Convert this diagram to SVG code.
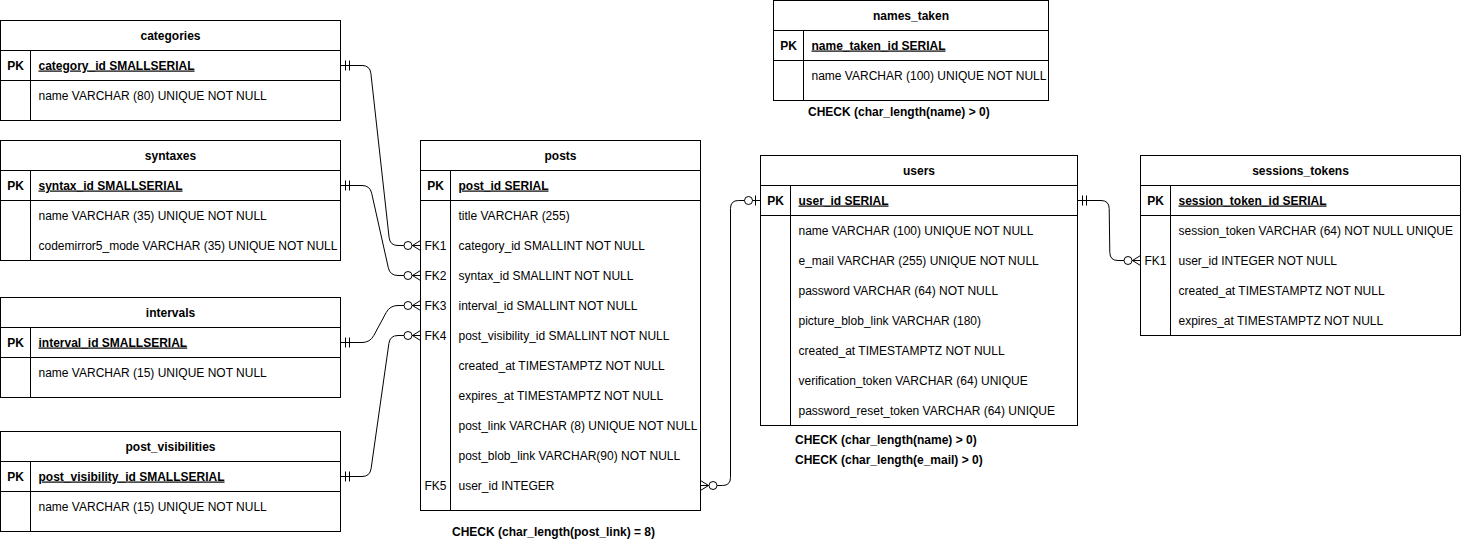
<svg xmlns="http://www.w3.org/2000/svg" width="1461" height="541" viewBox="0 0 1461 541">
<style>
text{font-family:"Liberation Sans",Arial,Helvetica,sans-serif;font-size:12px;fill:#000}
.h{text-anchor:middle;font-weight:bold}
.k{text-anchor:middle}
.kb{text-anchor:middle;font-weight:bold}
.pk{font-weight:bold;text-decoration:underline}
.ck{font-weight:bold}
.box{fill:#fff;stroke:#000;stroke-width:1}
.ln{stroke:#000;stroke-width:1;fill:none}
.edge{stroke:#000;stroke-width:1;fill:none}
</style>
<defs>
<marker id="mandOne" markerUnits="userSpaceOnUse" viewBox="-20 -8 22 16" refX="0" refY="0" markerWidth="22" markerHeight="16" orient="auto-start-reverse" overflow="visible">
<path d="M-5,-5V5M-9,-5V5" stroke="#000" stroke-width="1" fill="none"/>
</marker>
<marker id="zeroMany" markerUnits="userSpaceOnUse" viewBox="-20 -8 22 16" refX="0" refY="0" markerWidth="22" markerHeight="16" orient="auto-start-reverse" overflow="visible">
<path d="M0,-5L-8,0L0,5M-8,0H0" stroke="#000" stroke-width="1" fill="none"/>
<circle cx="-12.5" cy="0" r="4" fill="#fff" stroke="#000" stroke-width="1"/>
</marker>
<marker id="zeroOne" markerUnits="userSpaceOnUse" viewBox="-20 -8 22 16" refX="0" refY="0" markerWidth="22" markerHeight="16" orient="auto-start-reverse" overflow="visible">
<path d="M-5,-5V5" stroke="#000" stroke-width="1" fill="none"/>
<circle cx="-12" cy="0" r="4" fill="#fff" stroke="#000" stroke-width="1"/>
</marker>
</defs>
<rect x="0" y="0" width="1461" height="541" fill="#fff"/>

<g id="connectors">
<path class="edge" d="M340.5,65.5H362Q370,65.5 370.9,73.5L389.1,237.5Q390,245.5 398,245.5H420.5" marker-start="url(#mandOne)" marker-end="url(#zeroMany)"/>
<path class="edge" d="M340.5,185.5H362Q370,185.5 371.7,193.3L388.3,267.7Q390,275.5 398,275.5H420.5" marker-start="url(#mandOne)" marker-end="url(#zeroMany)"/>
<path class="edge" d="M340.5,342.5H362Q370,342.5 373.8,335.5L386.2,312.5Q390,305.5 398,305.5H420.5" marker-start="url(#mandOne)" marker-end="url(#zeroMany)"/>
<path class="edge" d="M340.5,476.5H362Q370,476.5 371.1,468.6L388.9,343.4Q390,335.5 398,335.5H420.5" marker-start="url(#mandOne)" marker-end="url(#zeroMany)"/>
<path class="edge" d="M700.5,485.5H722.5Q730.5,485.5 730.5,477.5V208.5Q730.5,200.5 738.5,200.5H760.5" marker-start="url(#zeroMany)" marker-end="url(#zeroOne)"/>
<path class="edge" d="M1077.5,200.5H1101Q1109,200.5 1109.2,208.5L1109.8,252.5Q1110,260.5 1118,260.5H1140.5" marker-start="url(#mandOne)" marker-end="url(#zeroMany)"/>
</g>

<g id="categories">
<rect class="box" x="0.5" y="20.5" width="340" height="100"/>
<path class="ln" d="M0.5,50.5H340.5M0.5,80.5H340.5M30.5,50.5V120.5"/>
<text class="h" x="170.5" y="39.5">categories</text>
<text class="kb" x="15.5" y="69.5">PK</text>
<text class="pk" x="38.5" y="69.5">category_id SMALLSERIAL</text>
<text x="38.5" y="99.5">name VARCHAR (80) UNIQUE NOT NULL</text>
</g>

<g id="syntaxes">
<rect class="box" x="0.5" y="140.5" width="340" height="120"/>
<path class="ln" d="M0.5,170.5H340.5M0.5,200.5H340.5M30.5,170.5V260.5"/>
<text class="h" x="170.5" y="159.5">syntaxes</text>
<text class="kb" x="15.5" y="189.5">PK</text>
<text class="pk" x="38.5" y="189.5">syntax_id SMALLSERIAL</text>
<text x="38.5" y="219.5">name VARCHAR (35) UNIQUE NOT NULL</text>
<text x="38.5" y="249.5">codemirror5_mode VARCHAR (35) UNIQUE NOT NULL</text>
</g>

<g id="intervals">
<rect class="box" x="0.5" y="297.5" width="340" height="100"/>
<path class="ln" d="M0.5,327.5H340.5M0.5,357.5H340.5M30.5,327.5V397.5"/>
<text class="h" x="170.5" y="316.5">intervals</text>
<text class="kb" x="15.5" y="346.5">PK</text>
<text class="pk" x="38.5" y="346.5">interval_id SMALLSERIAL</text>
<text x="38.5" y="376.5">name VARCHAR (15) UNIQUE NOT NULL</text>
</g>

<g id="post_visibilities">
<rect class="box" x="0.5" y="431.5" width="340" height="100"/>
<path class="ln" d="M0.5,461.5H340.5M0.5,491.5H340.5M30.5,461.5V531.5"/>
<text class="h" x="170.5" y="450.5">post_visibilities</text>
<text class="kb" x="15.5" y="480.5">PK</text>
<text class="pk" x="38.5" y="480.5">post_visibility_id SMALLSERIAL</text>
<text x="38.5" y="510.5">name VARCHAR (15) UNIQUE NOT NULL</text>
</g>

<g id="posts">
<rect class="box" x="420.5" y="140.5" width="280" height="370"/>
<path class="ln" d="M420.5,170.5H700.5M420.5,200.5H700.5M450.5,170.5V510.5"/>
<text class="h" x="560.5" y="159.5">posts</text>
<text class="kb" x="435.5" y="189.5">PK</text>
<text class="pk" x="458.5" y="189.5">post_id SERIAL</text>
<text x="458.5" y="219.5">title VARCHAR (255)</text>
<text class="k" x="435.5" y="249.5">FK1</text>
<text x="458.5" y="249.5">category_id SMALLINT NOT NULL</text>
<text class="k" x="435.5" y="279.5">FK2</text>
<text x="458.5" y="279.5">syntax_id SMALLINT NOT NULL</text>
<text class="k" x="435.5" y="309.5">FK3</text>
<text x="458.5" y="309.5">interval_id SMALLINT NOT NULL</text>
<text class="k" x="435.5" y="339.5">FK4</text>
<text x="458.5" y="339.5">post_visibility_id SMALLINT NOT NULL</text>
<text x="458.5" y="369.5">created_at TIMESTAMPTZ NOT NULL</text>
<text x="458.5" y="399.5">expires_at TIMESTAMPTZ NOT NULL</text>
<text x="458.5" y="429.5">post_link VARCHAR (8) UNIQUE NOT NULL</text>
<text x="458.5" y="459.5">post_blob_link VARCHAR(90) NOT NULL</text>
<text class="k" x="435.5" y="489.5">FK5</text>
<text x="458.5" y="489.5">user_id INTEGER</text>
<text class="ck" x="452" y="536">CHECK (char_length(post_link) = 8)</text>
</g>

<g id="users">
<rect class="box" x="760.5" y="155.5" width="317" height="270"/>
<path class="ln" d="M760.5,185.5H1077.5M760.5,215.5H1077.5M790.5,185.5V425.5"/>
<text class="h" x="919" y="174.5">users</text>
<text class="kb" x="775.5" y="204.5">PK</text>
<text class="pk" x="798.5" y="204.5">user_id SERIAL</text>
<text x="798.5" y="234.5">name VARCHAR (100) UNIQUE NOT NULL</text>
<text x="798.5" y="264.5">e_mail VARCHAR (255) UNIQUE NOT NULL</text>
<text x="798.5" y="294.5">password VARCHAR (64) NOT NULL</text>
<text x="798.5" y="324.5">picture_blob_link VARCHAR (180)</text>
<text x="798.5" y="354.5">created_at TIMESTAMPTZ NOT NULL</text>
<text x="798.5" y="384.5">verification_token VARCHAR (64) UNIQUE</text>
<text x="798.5" y="414.5">password_reset_token VARCHAR (64) UNIQUE</text>
<text class="ck" x="795" y="444">CHECK (char_length(name) &gt; 0)</text>
<text class="ck" x="795" y="464">CHECK (char_length(e_mail) &gt; 0)</text>
</g>

<g id="sessions_tokens">
<rect class="box" x="1140.5" y="155.5" width="320" height="180"/>
<path class="ln" d="M1140.5,185.5H1460.5M1140.5,215.5H1460.5M1170.5,185.5V335.5"/>
<text class="h" x="1300.5" y="174.5">sessions_tokens</text>
<text class="kb" x="1155.5" y="204.5">PK</text>
<text class="pk" x="1178.5" y="204.5">session_token_id SERIAL</text>
<text x="1178.5" y="234.5">session_token VARCHAR (64) NOT NULL UNIQUE</text>
<text class="k" x="1155.5" y="264.5">FK1</text>
<text x="1178.5" y="264.5">user_id INTEGER NOT NULL</text>
<text x="1178.5" y="294.5">created_at TIMESTAMPTZ NOT NULL</text>
<text x="1178.5" y="324.5">expires_at TIMESTAMPTZ NOT NULL</text>
</g>

<g id="names_taken">
<rect class="box" x="773.5" y="0.5" width="275" height="100"/>
<path class="ln" d="M773.5,30.5H1048.5M773.5,60.5H1048.5M803.5,30.5V100.5"/>
<text class="h" x="911" y="19.5">names_taken</text>
<text class="kb" x="788.5" y="49.5">PK</text>
<text class="pk" x="811.5" y="49.5">name_taken_id SERIAL</text>
<text x="811.5" y="79.5">name VARCHAR (100) UNIQUE NOT NULL</text>
<text class="ck" x="808" y="116">CHECK (char_length(name) &gt; 0)</text>
</g>
</svg>
